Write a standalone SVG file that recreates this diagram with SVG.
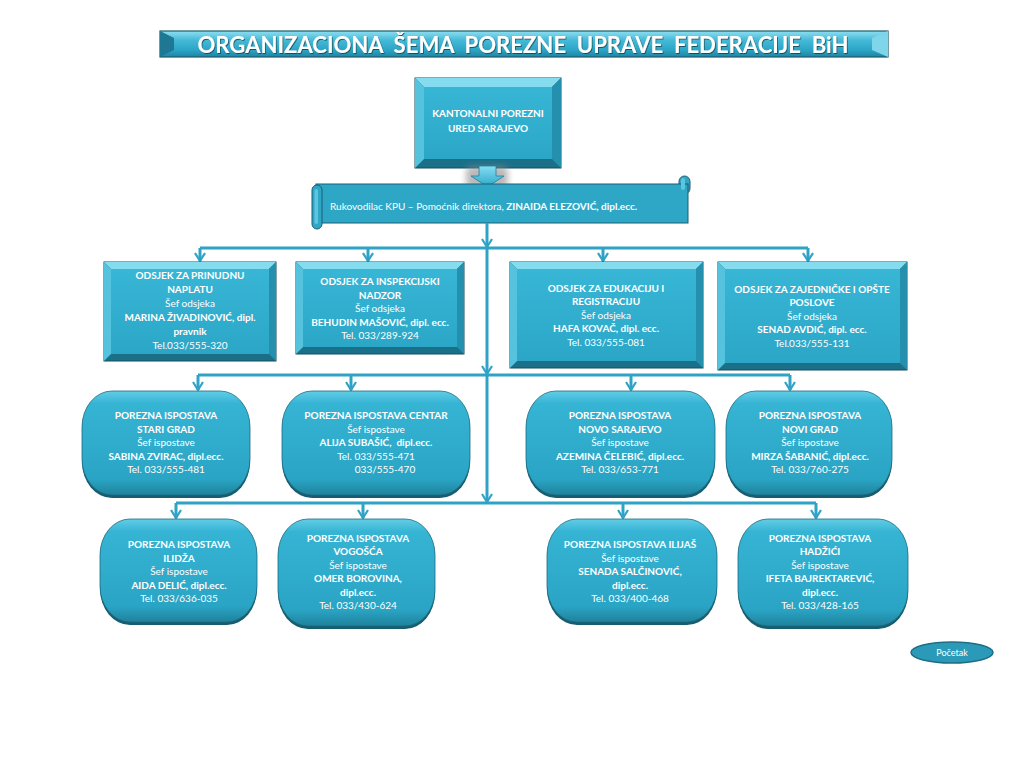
<svg xmlns="http://www.w3.org/2000/svg" width="1024" height="768" viewBox="0 0 1024 768">
<style>
.t{font-family:Lato,"Open Sans","Liberation Sans",sans-serif;fill:#ffffff;font-size:10px;text-anchor:middle}
.b{font-weight:bold}
.conn{stroke:#2fa3c6;stroke-width:3;fill:none}
.bt{fill:#86dcef}
.bl{fill:#55c3de}
.br{fill:#2590ae}
.bo{fill:#1b7089;stroke:#154f60;stroke-width:1}
.face{fill:url(#face)}
.rs{fill:#185c6f}
.rm{fill:url(#rnd);stroke:#1b6c82;stroke-width:0.8}
</style>
<defs>
<linearGradient id="face" x1="0" y1="0" x2="0" y2="1"><stop offset="0" stop-color="#38b6d6"/><stop offset="1" stop-color="#2ba6c7"/></linearGradient>
<linearGradient id="rnd" x1="0" y1="0" x2="0" y2="1"><stop offset="0" stop-color="#62cde6"/><stop offset="0.12" stop-color="#36b4d4"/><stop offset="0.85" stop-color="#2aa4c4"/><stop offset="1" stop-color="#1f829c"/></linearGradient>
<linearGradient id="band" x1="0" y1="0" x2="0" y2="1"><stop offset="0" stop-color="#8fdef1"/><stop offset="0.35" stop-color="#45bad8"/><stop offset="0.75" stop-color="#2aa3c4"/><stop offset="1" stop-color="#1e84a3"/></linearGradient>
<linearGradient id="arr" x1="0" y1="0" x2="0" y2="1"><stop offset="0" stop-color="#86def2"/><stop offset="1" stop-color="#2aa6c7"/></linearGradient>
<filter id="blur" x="-50%" y="-50%" width="200%" height="200%"><feGaussianBlur stdDeviation="3"/></filter>
<filter id="tsh" x="-5%" y="-30%" width="110%" height="160%"><feDropShadow dx="0.8" dy="1" stdDeviation="0.6" flood-color="#0d3d4a" flood-opacity="0.8"/></filter>
<marker id="ah" markerUnits="userSpaceOnUse" markerWidth="12" markerHeight="12" refX="9" refY="6" orient="auto" viewBox="0 0 12 12"><path d="M1,1 L9,6 L1,11" fill="none" stroke="#2fa3c6" stroke-width="2.2"/></marker>
</defs>
<rect width="1024" height="768" fill="#ffffff"/>

<g id="title">
<rect x="160" y="31" width="728" height="26" fill="url(#band)" stroke="#1b5a6c" stroke-width="1.2"/>
<polygon points="160,31 174,38 174,50 160,57" fill="#1f7893"/>
<polygon points="888,31 872,38 872,50 888,57" fill="#7fd6ea"/>
<text x="523" y="53" class="t b" style="font-size:23px;white-space:pre" textLength="651" lengthAdjust="spacingAndGlyphs" filter="url(#tsh)">ORGANIZACIONA  ŠEMA  POREZNE  UPRAVE  FEDERACIJE  BiH</text>
</g>

<g id="kpu">
<rect x="415" y="78" width="146" height="90" class="bo"/>
<polygon points="415,78 561,78 552,87 424,87" class="bt"/>
<polygon points="415,78 424,87 424,159 415,168" class="bl"/>
<polygon points="561,78 561,168 552,159 552,87" class="br"/>
<rect x="424" y="87" width="128" height="72" class="face"/>
<text class="t b" x="488" y="117">KANTONALNI POREZNI</text>
<text class="t b" x="488" y="132">URED SARAJEVO</text>
</g>

<g id="kpu-arrow">
<rect x="466" y="166" width="42" height="22" rx="6" fill="#8a8a8a" opacity="0.6" filter="url(#blur)"/>
<polygon points="479,166 496,166 496,176 504,176 487.5,187 471,176 479,176" fill="url(#arr)" stroke="#1f7f99" stroke-width="0.8"/>
</g>

<g id="rukovodilac">
<rect x="679" y="176" width="11" height="18" rx="5.5" fill="#2ea6c6" stroke="#1a5f72" stroke-width="1"/>
<rect x="316" y="184" width="372" height="39" fill="#2ea6c6" stroke="#1a5f72" stroke-width="1"/>
<rect x="681" y="178" width="4" height="12" rx="2" fill="#5cc6df"/>
<rect x="312" y="185" width="10" height="44" rx="5" fill="#2ea6c6" stroke="#1a5f72" stroke-width="1"/>
<rect x="314.5" y="189" width="3.5" height="35" rx="1.7" fill="#5cc6df"/>
<text class="t" x="330" y="209.5" style="text-anchor:start">Rukovodilac KPU – Pomoćnik direktora, <tspan class="b">ZINAIDA ELEZOVIĆ, dipl.ecc.</tspan></text>
</g>

<g id="connectors">
<line class="conn" x1="487" y1="223" x2="487" y2="247" marker-end="url(#ah)"/>
<line class="conn" x1="487" y1="247" x2="487" y2="374" marker-end="url(#ah)"/>
<line class="conn" x1="487" y1="374" x2="487" y2="502" marker-end="url(#ah)"/>
<line class="conn" x1="200" y1="248" x2="808" y2="248"/>
<line class="conn" x1="200" y1="248" x2="200" y2="261" marker-end="url(#ah)"/>
<line class="conn" x1="368" y1="248" x2="368" y2="261" marker-end="url(#ah)"/>
<line class="conn" x1="603" y1="248" x2="603" y2="261" marker-end="url(#ah)"/>
<line class="conn" x1="808" y1="248" x2="808" y2="261" marker-end="url(#ah)"/>
<line class="conn" x1="198" y1="375" x2="790" y2="375"/>
<line class="conn" x1="198" y1="375" x2="198" y2="390" marker-end="url(#ah)"/>
<line class="conn" x1="351" y1="375" x2="351" y2="390" marker-end="url(#ah)"/>
<line class="conn" x1="631" y1="375" x2="631" y2="390" marker-end="url(#ah)"/>
<line class="conn" x1="790" y1="375" x2="790" y2="390" marker-end="url(#ah)"/>
<line class="conn" x1="176" y1="503" x2="816" y2="503"/>
<line class="conn" x1="176" y1="503" x2="176" y2="518" marker-end="url(#ah)"/>
<line class="conn" x1="363" y1="503" x2="363" y2="518" marker-end="url(#ah)"/>
<line class="conn" x1="623" y1="503" x2="623" y2="518" marker-end="url(#ah)"/>
<line class="conn" x1="816" y1="503" x2="816" y2="518" marker-end="url(#ah)"/>
</g>

<g id="odsjek-prinudna">
<rect x="104" y="262" width="172" height="99" class="bo"/>
<polygon points="104,262 276,262 269,269 111,269" class="bt"/>
<polygon points="104,262 111,269 111,354 104,361" class="bl"/>
<polygon points="276,262 276,361 269,354 269,269" class="br"/>
<rect x="111" y="269" width="158" height="85" class="face"/>
<text class="t b" x="190" y="279">ODSJEK ZA PRINUDNU</text>
<text class="t b" x="190" y="293">NAPLATU</text>
<text class="t" x="190" y="307">Šef odsjeka</text>
<text class="t b" x="190" y="321">MARINA ŽIVADINOVIĆ, dipl.</text>
<text class="t b" x="190" y="335">pravnik</text>
<text class="t" x="190" y="349">Tel.033/555-320</text>
</g>

<g id="odsjek-inspekcija">
<rect x="296" y="262" width="168" height="92" class="bo"/>
<polygon points="296,262 464,262 457,269 303,269" class="bt"/>
<polygon points="296,262 303,269 303,347 296,354" class="bl"/>
<polygon points="464,262 464,354 457,347 457,269" class="br"/>
<rect x="303" y="269" width="154" height="78" class="face"/>
<text class="t b" x="380" y="285">ODSJEK ZA INSPEKCIJSKI</text>
<text class="t b" x="380" y="298.5">NADZOR</text>
<text class="t" x="380" y="312">Šef odsjeka</text>
<text class="t b" x="380" y="325.5">BEHUDIN MAŠOVIĆ, dipl. ecc.</text>
<text class="t" x="380" y="339">Tel. 033/289-924</text>
</g>

<g id="odsjek-edukacija">
<rect x="510" y="262" width="193" height="106" class="bo"/>
<polygon points="510,262 703,262 696,269 517,269" class="bt"/>
<polygon points="510,262 517,269 517,361 510,368" class="bl"/>
<polygon points="703,262 703,368 696,361 696,269" class="br"/>
<rect x="517" y="269" width="179" height="92" class="face"/>
<text class="t b" x="606" y="291.5">ODSJEK ZA EDUKACIJU I</text>
<text class="t b" x="606" y="305">REGISTRACIJU</text>
<text class="t" x="606" y="318.5">Šef odsjeka</text>
<text class="t b" x="606" y="332">HAFA KOVAČ, dipl. ecc.</text>
<text class="t" x="606" y="345.5">Tel. 033/555-081</text>
</g>

<g id="odsjek-zajednicki">
<rect x="718" y="262" width="189" height="108" class="bo"/>
<polygon points="718,262 907,262 900,269 725,269" class="bt"/>
<polygon points="718,262 725,269 725,363 718,370" class="bl"/>
<polygon points="907,262 907,370 900,363 900,269" class="br"/>
<rect x="725" y="269" width="175" height="94" class="face"/>
<text class="t b" x="812" y="292.5">ODSJEK ZA ZAJEDNIČKE I OPŠTE</text>
<text class="t b" x="812" y="306">POSLOVE</text>
<text class="t" x="812" y="319.5">Šef odsjeka</text>
<text class="t b" x="812" y="333">SENAD AVDIĆ, dipl. ecc.</text>
<text class="t" x="812" y="346.5">Tel.033/555-131</text>
</g>

<g id="pi-stari-grad">
<rect x="82" y="394" width="168" height="104" rx="30" ry="36" class="rs"/>
<rect x="82" y="391" width="168" height="104" rx="30" ry="36" class="rm"/>
<text class="t b" x="166" y="419">POREZNA ISPOSTAVA</text>
<text class="t b" x="166" y="432.5">STARI GRAD</text>
<text class="t" x="166" y="446">Šef ispostave</text>
<text class="t b" x="166" y="459.5">SABINA ZVIRAC, dipl.ecc.</text>
<text class="t" x="166" y="473">Tel. 033/555-481</text>
</g>

<g id="pi-centar">
<rect x="282" y="394" width="188" height="104" rx="30" ry="36" class="rs"/>
<rect x="282" y="391" width="188" height="104" rx="30" ry="36" class="rm"/>
<text class="t b" x="376" y="419">POREZNA ISPOSTAVA CENTAR</text>
<text class="t" x="376" y="432.5">Šef ispostave</text>
<text class="t b" x="376" y="446" style="white-space:pre">ALIJA SUBAŠIĆ,  dipl.ecc.</text>
<text class="t" x="376" y="459.5">Tel. 033/555-471</text>
<text class="t" x="385" y="473">033/555-470</text>
</g>

<g id="pi-novo-sarajevo">
<rect x="526" y="394" width="189" height="104" rx="30" ry="36" class="rs"/>
<rect x="526" y="391" width="189" height="104" rx="30" ry="36" class="rm"/>
<text class="t b" x="620" y="419">POREZNA ISPOSTAVA</text>
<text class="t b" x="620" y="432.5">NOVO SARAJEVO</text>
<text class="t" x="620" y="446">Šef ispostave</text>
<text class="t b" x="620" y="459.5">AZEMINA ČELEBIĆ, dipl.ecc.</text>
<text class="t" x="620" y="473">Tel. 033/653-771</text>
</g>

<g id="pi-novi-grad">
<rect x="726" y="394" width="166" height="104" rx="30" ry="36" class="rs"/>
<rect x="726" y="391" width="166" height="104" rx="30" ry="36" class="rm"/>
<text class="t b" x="810" y="419">POREZNA ISPOSTAVA</text>
<text class="t b" x="810" y="432.5">NOVI GRAD</text>
<text class="t" x="810" y="446">Šef ispostave</text>
<text class="t b" x="810" y="459.5">MIRZA ŠABANIĆ, dipl.ecc.</text>
<text class="t" x="810" y="473">Tel. 033/760-275</text>
</g>

<g id="pi-ilidza">
<rect x="100" y="522" width="157" height="103" rx="30" ry="36" class="rs"/>
<rect x="100" y="519" width="157" height="103" rx="30" ry="36" class="rm"/>
<text class="t b" x="179" y="548">POREZNA ISPOSTAVA</text>
<text class="t b" x="179" y="561.5">ILIDŽA</text>
<text class="t" x="179" y="575">Šef ispostave</text>
<text class="t b" x="179" y="588.5">AIDA DELIĆ, dipl.ecc.</text>
<text class="t" x="179" y="602">Tel. 033/636-035</text>
</g>

<g id="pi-vogosca">
<rect x="278" y="522" width="157" height="107" rx="30" ry="36" class="rs"/>
<rect x="278" y="519" width="157" height="107" rx="30" ry="36" class="rm"/>
<text class="t b" x="358" y="541.5">POREZNA ISPOSTAVA</text>
<text class="t b" x="358" y="555">VOGOŠĆA</text>
<text class="t" x="358" y="568.5">Šef ispostave</text>
<text class="t b" x="358" y="582">OMER BOROVINA,</text>
<text class="t b" x="358" y="595.5">dipl.ecc.</text>
<text class="t" x="358" y="609">Tel. 033/430-624</text>
</g>

<g id="pi-ilijas">
<rect x="547" y="522" width="170" height="103" rx="30" ry="36" class="rs"/>
<rect x="547" y="519" width="170" height="103" rx="30" ry="36" class="rm"/>
<text class="t b" x="630" y="548">POREZNA ISPOSTAVA ILIJAŠ</text>
<text class="t" x="630" y="561.5">Šef ispostave</text>
<text class="t b" x="630" y="575">SENADA SALČINOVIĆ,</text>
<text class="t b" x="630" y="588.5">dipl.ecc.</text>
<text class="t" x="630" y="602">Tel. 033/400-468</text>
</g>

<g id="pi-hadzici">
<rect x="738" y="522" width="170" height="107" rx="30" ry="36" class="rs"/>
<rect x="738" y="519" width="170" height="107" rx="30" ry="36" class="rm"/>
<text class="t b" x="820" y="541.5">POREZNA ISPOSTAVA</text>
<text class="t b" x="820" y="555">HADŽIĆI</text>
<text class="t" x="820" y="568.5">Šef ispostave</text>
<text class="t b" x="820" y="582">IFETA BAJREKTAREVIĆ,</text>
<text class="t b" x="820" y="595.5">dipl.ecc.</text>
<text class="t" x="820" y="609">Tel. 033/428-165</text>
</g>

<g id="pocetak">
<ellipse cx="952" cy="652.5" rx="41" ry="10.5" fill="#2b9ab9" stroke="#1e6e85" stroke-width="1.5"/>
<text class="t" x="952" y="655.5" style="font-size:9px">Početak</text>
</g>
</svg>
